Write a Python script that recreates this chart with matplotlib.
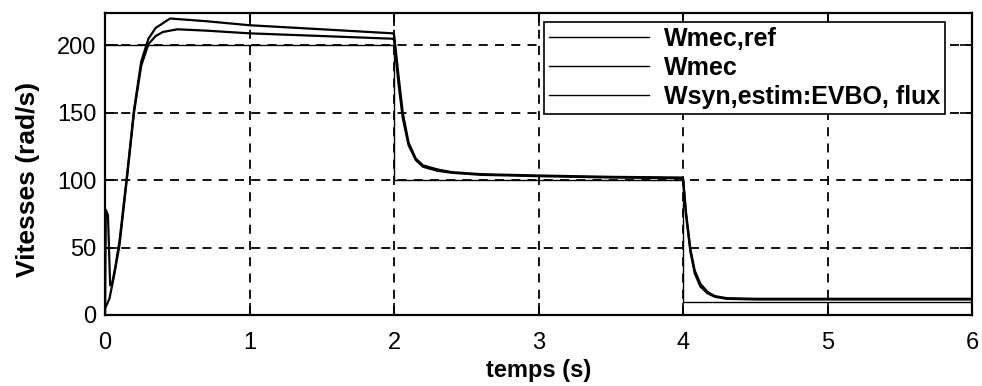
import matplotlib.pyplot as plt

plt.rcParams['font.family'] = ['Liberation Sans', 'DejaVu Sans']

# speed reference (rad/s)
t_ref = [0, 2, 2, 4, 4, 6]
w_ref = [200, 200, 100, 100, 10, 10]

# measured mechanical speed
t_mec = [0, 0.03, 0.06, 0.1, 0.15, 0.2, 0.25, 0.3, 0.35, 0.4, 0.5, 0.7, 1.0, 1.5, 1.99,
         2.0, 2.03, 2.06, 2.1, 2.15, 2.2, 2.3, 2.4, 2.6, 3.0, 3.5, 3.99,
         4.0, 4.02, 4.05, 4.08, 4.12, 4.17, 4.22, 4.3, 4.5, 5.0, 6.0]
w_mec = [5, 12, 28, 52, 100, 150, 185, 201, 207, 210, 212, 211, 209, 207, 205,
         204, 172, 146, 126, 115, 110, 107, 105.5, 104, 103, 102, 101.5,
         100, 74, 47, 31, 21, 16, 13.5, 12, 11.5, 11.5, 11.5]

# estimated synchronous speed (EVBO observer, flux)
t_syn = [0, 0.005, 0.02, 0.035, 0.05, 0.07, 0.1, 0.15, 0.2, 0.25, 0.3, 0.35, 0.45, 0.7,
         1.0, 1.5, 1.99, 2.0, 2.03, 2.06, 2.1, 2.15, 2.2, 2.3, 2.4, 2.6, 3.0, 3.5, 3.99,
         4.0, 4.02, 4.05, 4.08, 4.12, 4.17, 4.22, 4.3, 4.5, 5.0, 6.0]
w_syn = [0, 78, 74, 22, 24, 35, 55, 102, 152, 188, 205, 213, 220, 218,
         215, 212, 209, 208, 178, 150, 128, 116, 111, 108, 106, 104.5, 103.5, 102.5, 102,
         101, 76, 49, 33, 23, 17, 14, 12.5, 12, 12, 12]

fig = plt.figure(figsize=(9.82, 3.86), dpi=100)
ax = fig.add_axes([0.107, 0.184, 0.883, 0.782])

ax.plot(t_ref, w_ref, color='black', lw=1.0, label='Wmec,ref')
ax.plot(t_mec, w_mec, color='black', lw=1.6, label='Wmec')
ax.plot(t_syn, w_syn, color='black', lw=1.6, label='Wsyn,estim:EVBO, flux')

ax.set_xlim(0, 6)
ax.set_ylim(0, 224)
ax.set_xticks([0, 1, 2, 3, 4, 5, 6])
ax.set_yticks([0, 50, 100, 150, 200])
ax.grid(True, color='black', linestyle=(0, (5, 4)), linewidth=1.3)
ax.tick_params(direction='in', length=9, width=1.2, top=True, right=True,
               labelsize=17, colors='black')
ax.tick_params(axis='x', pad=12)
ax.tick_params(axis='y', pad=6)
for s in ax.spines.values():
    s.set_linewidth(1.6)

ax.set_xlabel('temps (s)', fontsize=17, fontweight='bold', labelpad=4)
ax.set_ylabel('Vitesses (rad/s)', fontsize=19, fontweight='bold')
ax.yaxis.set_label_coords(-0.075, 0.45)

leg = ax.legend(loc='upper right', bbox_to_anchor=(0.969, 0.970), borderaxespad=0,
                fancybox=False, edgecolor='black', framealpha=1,
                prop={'size': 18, 'weight': 'bold'}, handlelength=4.0,
                handletextpad=0.6, labelspacing=0.2, borderpad=0.2)
leg.get_frame().set_linewidth(1.2)
for h in leg.get_lines():
    h.set_linewidth(1.0)

fig.savefig('out.png', dpi=100)
